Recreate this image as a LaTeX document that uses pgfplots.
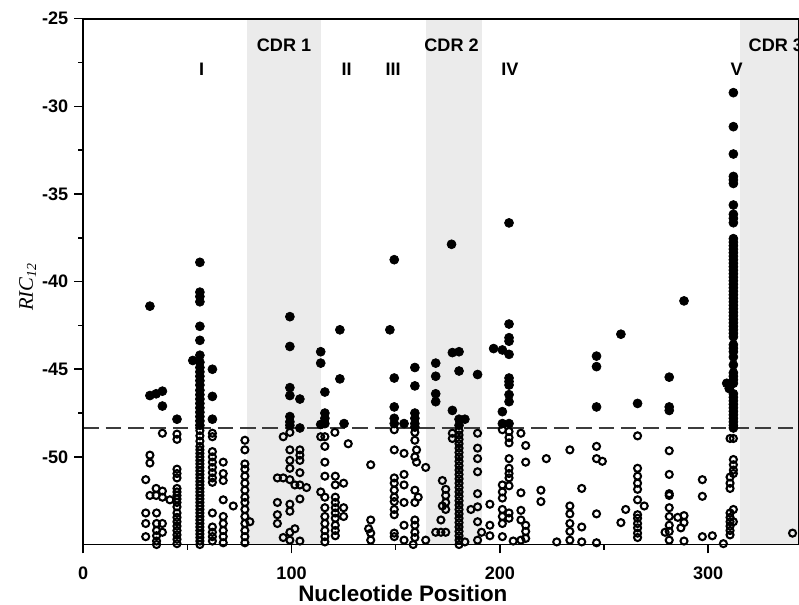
\documentclass[border=0pt]{standalone}
\usepackage{pgfplots}
\pgfplotsset{compat=1.18}
\usepackage{fontspec}
\setmainfont{Liberation Sans}
\newfontfamily\serifit{Liberation Serif}

\definecolor{cdrgray}{RGB}{235,235,235}
\definecolor{cutline}{RGB}{60,60,60}

\begin{document}
\begin{tikzpicture}
\begin{axis}[
    name=ax,
    scale only axis,
    width=415.3pt, height=305.1pt,
    xmin=0, xmax=343.6,
    ymin=-55, ymax=-25,
    xtick={0,100,200,300},
    ytick={-50,-45,-40,-35,-30,-25},
    minor x tick num=1,
    minor y tick num=1,
    tick align=outside,
    xtick pos=bottom, ytick pos=left,
    major tick length=5.2pt, minor tick length=2.9pt,
    every tick/.style={black, line width=0.9pt},
    axis line style={line width=1pt},
    axis on top,
    clip=false,
    /pgf/number format/assume math mode=true,
    ticklabel style={font=\fontsize{10.5}{12}\selectfont\bfseries},
    xticklabel style={yshift=-4pt},
    xlabel={Nucleotide Position},
    xlabel style={font=\fontsize{13}{15}\selectfont\bfseries,
        at={(axis description cs:0.4465,0)}, anchor=base, yshift=-33.2pt},
    ylabel={\serifit\itshape RIC\textsubscript{12}},
    ylabel style={font=\fontsize{12}{14}\selectfont,
        at={(axis description cs:0,0.49)}, anchor=base, yshift=29.2pt},
]
    % CDR bands
    \addplot[draw=none, fill=cdrgray, forget plot] coordinates {(78.4,-55) (78.4,-25) (114.1,-25) (114.1,-55)};
    \addplot[draw=none, fill=cdrgray, forget plot] coordinates {(164.5,-55) (164.5,-25) (191.4,-25) (191.4,-55)};
    \addplot[draw=none, fill=cdrgray, forget plot] coordinates {(315.2,-55) (315.2,-25) (343.6,-25) (343.6,-55)};

    % cut-off line
    \addplot[cutline, line width=0.8pt, dash pattern=on 9pt off 4pt] coordinates {(0,-48.35) (343.6,-48.35)};

    % below cut-off (open)
    \addplot[only marks, mark=o, mark size=2.05pt, line width=1.2pt, black] coordinates {
        (32,-49.9) (32,-50.35) (30,-51.3) (32,-52.2) (35,-51.8) (35,-52.2) (38,-51.95) (38,-52.3) (41.6,-52.45)
        (30,-53.2) (30,-53.8) (30,-54.55) (35.2,-53.2) (35.2,-53.8) (35.2,-54.2) (35.2,-54.5) (35.2,-54.8) (35.2,-55.0)
        (38,-53.8) (38,-54.3) (38,-48.65)
        (45,-48.7) (45,-49.0) (45,-50.7) (45,-50.95) (45,-51.2) (45,-51.8) (45,-52.0) (45,-52.2) (45,-52.4) (45,-52.6)
        (45,-52.85) (45,-53.2) (45,-53.45) (45,-53.7) (45,-53.95) (45,-54.2) (45,-54.45) (45,-54.7) (45,-54.95)
        (56,-48.5) (56,-48.8) (56,-49.1) (56,-49.4) (56,-49.6) (56,-49.8) (56,-50.0) (56,-50.2) (56,-50.4) (56,-50.6)
        (56,-50.8) (56,-51.0) (56,-51.2) (56,-51.4) (56,-51.6) (56,-51.8) (56,-52.0) (56,-52.2) (56,-52.4) (56,-52.6)
        (56,-52.8) (56,-53.0) (56,-53.2) (56,-53.4) (56,-53.6) (56,-53.8) (56,-54.0) (56,-54.2) (56,-54.4) (56,-54.6)
        (56,-54.8) (56,-55.0)
        (62,-48.65) (62,-48.85) (62,-49.7) (62,-50.0) (62,-50.3) (62,-50.6) (62,-50.9) (62,-51.2) (62,-51.45)
        (62,-53.2) (62,-54.0) (62,-54.3) (62,-54.55) (62,-54.8)
        (67.2,-50.3) (67.2,-50.95) (67.2,-51.35) (67.2,-52.45) (67.2,-53.4) (67.2,-53.8) (67.2,-54.2) (67.2,-54.55) (67.2,-54.9)
        (72,-52.8)
        (77.6,-49.05) (77.6,-49.6) (77.6,-50.4) (77.6,-50.7) (77.6,-51.1) (77.6,-51.5) (77.6,-51.9) (77.6,-52.3)
        (77.6,-52.6) (77.6,-53.0) (77.6,-53.4) (77.6,-53.8) (77.6,-54.2) (77.6,-54.55) (77.6,-54.9) (80,-53.7)
        (93.2,-51.2) (93.2,-52.6) (93.2,-53.3) (93.2,-53.8) (96,-48.85) (96,-51.2) (96,-54.6)
        (99.2,-48.6) (99.2,-49.6) (99.2,-50.2) (99.2,-50.65) (99.2,-51.3) (99.2,-52.7) (99.2,-53.1) (99.2,-54.3) (99.2,-54.75)
        (104,-49.6) (104,-49.9) (104,-50.2) (104,-50.9) (104,-51.6) (104,-52.4) (101.6,-54.1) (104,-54.8) (101.6,-51.6) (107.2,-51.75)
        (114,-48.85) (116,-48.85) (116,-49.4) (116,-50.3) (116,-51.1) (114,-52.0) (116,-52.3) (116,-52.9) (116,-53.4)
        (116,-53.8) (116,-54.2) (116,-54.55) (116,-54.85)
        (120.8,-48.6) (121,-51.1) (121,-51.6) (121,-52.3) (121,-52.6) (121,-52.9) (121,-53.2) (121,-53.5) (121,-53.9)
        (121,-54.2) (121,-54.5) (125,-51.5) (125,-52.9) (125,-53.4) (127.2,-49.25)
        (138,-50.45) (138,-53.6) (137,-54.1) (138,-54.35) (138,-54.75)
        (149.3,-48.45) (149.3,-49.6) (149.3,-51.2) (149.3,-51.5) (149.3,-51.9) (149.3,-52.3) (149.3,-52.55) (149.3,-53.0)
        (149.3,-53.3) (149.3,-54.35) (149.3,-54.55)
        (154,-49.8) (154,-51.0) (154,-51.6) (154,-52.6) (154,-53.9) (154,-54.75) (158.4,-55.0)
        (159.2,-48.6) (159.2,-49.05) (160,-49.6) (159.2,-50.0) (160,-50.3) (159.2,-51.9) (160.8,-52.3) (159.2,-52.6)
        (159.2,-53.6) (159.2,-53.9) (159.2,-54.3) (159.2,-54.6) (164.4,-50.6) (164.4,-54.75)
        (172.4,-51.35) (174,-51.85) (174,-52.2) (174,-52.6) (172.4,-52.8) (174,-53.0) (171.7,-53.6) (171.7,-54.3)
        (169.2,-54.3) (174,-54.3)
        (177.2,-48.65) (177.2,-48.95)
        (180.4,-48.5) (180.4,-48.75) (180.4,-49.0) (180.4,-49.25) (180.4,-49.5) (180.4,-49.75) (180.4,-50.0) (180.4,-50.25)
        (180.4,-50.5) (180.4,-50.75) (180.4,-51.0) (180.4,-51.25) (180.4,-51.5) (180.4,-51.75) (180.4,-52.0) (180.4,-52.25)
        (180.4,-52.5) (180.4,-52.75) (180.4,-53.0) (180.4,-53.25) (180.4,-53.5) (180.4,-53.75) (180.4,-54.0) (180.4,-54.25)
        (180.4,-54.5) (180.4,-54.75) (180.4,-55.0) (183.2,-54.85) (186.1,-53.0)
        (189.3,-48.65) (189.3,-49.5) (189.3,-50.1) (189.3,-50.85) (189.3,-52.1) (189.3,-52.85) (189.3,-53.7) (189.3,-54.75) (191.2,-54.3)
        (195.2,-52.7) (195.2,-53.9) (195.2,-54.5)
        (201.2,-48.45) (201.2,-51.6) (201.2,-52.0) (201.2,-52.35) (201.2,-53.0) (201.2,-53.4) (201.2,-53.8) (201.2,-54.55)
        (204.4,-48.55) (204.4,-48.9) (204.4,-49.2) (204.4,-50.1) (204.4,-50.65) (204.4,-50.95) (204.4,-51.2) (204.4,-51.65)
        (204.4,-53.2) (204.4,-53.5) (206.4,-54.8)
        (210.1,-48.65) (212.4,-49.35) (212.4,-50.3) (210.1,-52.05) (210.1,-53.05) (210.1,-53.6) (212.4,-53.9) (212.4,-54.25)
        (212.4,-54.65) (210.1,-54.75)
        (222.3,-50.1) (219.7,-51.9) (219.7,-52.55) (227.3,-54.85)
        (233.6,-49.6) (233.6,-52.8) (233.6,-53.25) (233.6,-53.8) (233.6,-54.25) (233.6,-54.75)
        (239.3,-51.8) (239.3,-54.0) (239.3,-54.85)
        (246.4,-49.4) (246.4,-50.1) (249.2,-50.25) (246.4,-53.25) (246.4,-54.9)
        (258.1,-53.75) (260.4,-53.0)
        (266.1,-48.8) (266.1,-50.65) (266.1,-51.1) (266.1,-51.5) (266.1,-51.85) (266.1,-52.45) (266.1,-53.3) (266.1,-53.5)
        (266.1,-53.8) (266.1,-54.05) (266.1,-54.35) (266.1,-54.6) (269.3,-52.8)
        (281.3,-49.65) (281.3,-51.0) (281.3,-52.1) (281.3,-52.2) (281.3,-52.9) (281.3,-53.4) (281.3,-53.9) (281.3,-54.25)
        (281.3,-54.75) (279.3,-54.3) (285.4,-53.45) (288.4,-53.35) (286.9,-54.05) (288.4,-53.75) (288.4,-54.8)
        (297.2,-51.3) (297.2,-52.25) (297.2,-54.55) (302,-54.5) (307.3,-54.95)
        (310.5,-48.95) (312.1,-48.95) (312.1,-50.15) (312.1,-50.45) (312.1,-50.75) (312.1,-50.95) (310.5,-51.15)
        (310.5,-51.5) (310.5,-51.8) (312.1,-53.0) (312.1,-53.7) (310.5,-53.2) (310.5,-53.45) (310.5,-53.7)
        (310.5,-53.95) (310.5,-54.2) (310.5,-54.45)
        (340.5,-54.35)
    };

    % above cut-off (filled)
    \addplot[only marks, mark=*, mark size=2.6pt, black] coordinates {
        (32,-41.4) (32,-46.5) (35,-46.4) (38,-46.25) (38,-47.1)
        (45,-47.85)
        (56,-38.9) (56,-40.6) (56,-40.85) (56,-41.15) (56,-42.55) (56,-43.35) (56,-44.2) (52.6,-44.5) (56,-44.6)
        (56,-44.9) (56,-45.15) (56,-45.4) (56,-45.65) (56,-45.9) (56,-46.2) (56,-46.45) (56,-46.7) (56,-46.95)
        (56,-47.2) (56,-47.45) (56,-47.7) (56,-47.95) (56,-48.2)
        (62,-45.0) (62,-46.55) (62,-47.85)
        (99.2,-42.0) (99.2,-43.7) (99.2,-46.05) (99.2,-46.5) (99.2,-47.7) (99.2,-48.0) (99.2,-48.2)
        (104,-46.7) (104,-48.35)
        (114,-44.0) (114,-44.65) (116,-46.3) (116,-47.5) (116,-47.8) (116,-48.1) (114,-48.15)
        (123.2,-42.75) (123.2,-45.55) (125.2,-48.1)
        (149.3,-38.75) (147.2,-42.75) (149.3,-45.5) (149.3,-47.15) (149.3,-47.8) (149.3,-48.1) (154,-48.1)
        (159.2,-44.9) (159.2,-45.95) (159.2,-47.5) (159.2,-47.8) (159.2,-48.1) (159.2,-48.3)
        (169.2,-44.65) (169.2,-45.4) (169.2,-46.4) (169.2,-46.85)
        (176.8,-37.87) (177.2,-44.05) (180.4,-44.0) (180.4,-45.1) (177.2,-47.35) (180.4,-47.85) (183.2,-47.85) (180.4,-48.2)
        (189.3,-45.3) (197,-43.82) (201.2,-43.9) (201.2,-47.42) (201.2,-48.1)
        (204.4,-36.65) (204.4,-42.42) (204.4,-43.2) (204.4,-43.4) (204.4,-44.15) (204.4,-45.5) (204.4,-45.7)
        (204.4,-45.9) (204.4,-46.45) (204.4,-46.85) (204.4,-48.1)
        (246.4,-44.25) (246.4,-44.85) (246.4,-47.15)
        (258.1,-43.0) (266.1,-46.95) (288.4,-41.1)
        (281.3,-45.45) (281.3,-47.15) (281.3,-47.35)
        (312.1,-29.22) (312.1,-31.16) (312.1,-32.72) (312.1,-34.0) (312.1,-34.2) (312.1,-34.4) (312.1,-35.63)
        (312.1,-36.16) (312.1,-36.39) (312.1,-36.64)
        (312.1,-37.55) (312.1,-37.75) (312.1,-37.95) (312.1,-38.15) (312.1,-38.35) (312.1,-38.55) (312.1,-38.75)
        (312.1,-38.95) (312.1,-39.15) (312.1,-39.35) (312.1,-39.55) (312.1,-39.75) (312.1,-39.95) (312.1,-40.15)
        (312.1,-40.35) (312.1,-40.55) (312.1,-40.75) (312.1,-40.95) (312.1,-41.15) (312.1,-41.35) (312.1,-41.55)
        (312.1,-41.75) (312.1,-41.95) (312.1,-42.15) (312.1,-42.35) (312.1,-42.55) (312.1,-42.75) (312.1,-42.95)
        (312.1,-43.15) (312.1,-43.6) (312.1,-43.8) (312.1,-44.0) (312.1,-44.3) (312.1,-44.75) (312.1,-45.2)
        (312.1,-45.4) (312.1,-45.6) (312.1,-45.8) (308.9,-45.8) (310.1,-46.1)
        (312.1,-46.4) (312.1,-46.6) (312.1,-46.8) (312.1,-47.0) (312.1,-47.2) (312.1,-47.4) (312.1,-47.6)
        (312.1,-47.8) (312.1,-48.0) (312.1,-48.2) (312.1,-48.35)
    };

    % region labels
    \begin{scope}[font=\fontsize{10.5}{12}\selectfont\bfseries]
        \node at (axis cs:96.4,-26.5) {CDR 1};
        \node at (axis cs:176.8,-26.5) {CDR 2};
        \node[anchor=west, inner sep=0pt] at (axis cs:319.3,-26.5) {CDR 3};
        \node at (axis cs:56.8,-27.87) {I};
        \node at (axis cs:126.4,-27.87) {II};
        \node at (axis cs:148.8,-27.87) {III};
        \node at (axis cs:204.8,-27.87) {IV};
        \node at (axis cs:313.7,-27.87) {V};
    \end{scope}
\end{axis}
\pgfresetboundingbox
\path[use as bounding box] ([xshift=-48.3pt,yshift=-35pt]ax.south west) rectangle ([yshift=10.85pt]ax.north east);
\end{tikzpicture}
\end{document}
